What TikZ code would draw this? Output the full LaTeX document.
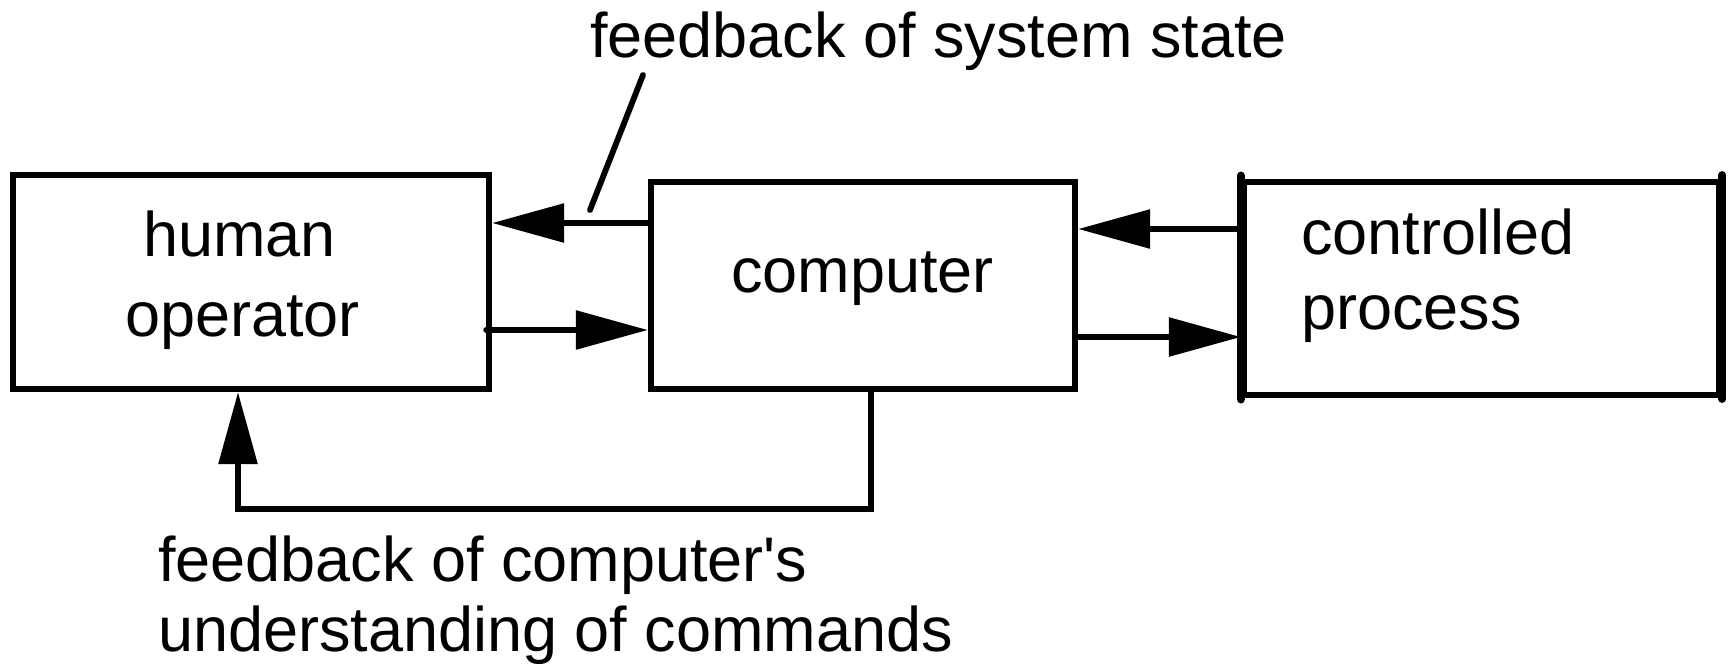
\documentclass[tikz,border=0pt]{standalone}
\usepackage{fontspec}
\setmainfont{Liberation Sans}
\usetikzlibrary{arrows.meta}
\begin{document}
\begin{tikzpicture}[x=1pt,y=-1pt,
  box/.style={draw,line width=6.3pt,rectangle,inner sep=0pt},
  txt/.style={anchor=base west,inner sep=0pt,font=\fontsize{63}{75}\selectfont},
  conn/.style={line width=5.8pt},
  arr/.style={conn,-{Triangle[length=72pt,width=38pt]}}]
\useasboundingbox (0,0) rectangle (1729,667);
\node[box,minimum width=476pt,minimum height=214pt] (hum) at (251,282) {};
\node[box,minimum width=424pt,minimum height=207pt] (com) at (863,285.5) {};
\node[box,minimum width=475pt,minimum height=213pt] (pro) at (1481.5,288.5) {};
\draw[line width=8.7pt,line cap=round] ([yshift=3pt]pro.north west) -- ([yshift=-1pt]pro.south west);
\draw[line width=7.5pt,line cap=round] ([yshift=4pt]pro.north east) -- ([yshift=-1pt]pro.south east);
\node[txt] (t1) at (143,256) {human};
\node[txt] (t2) at (125,336) {operator};
\node[txt] (t3) at (731,292) {computer};
\node[txt] (t4) at (1301,254) {controlled};
\node[txt] (t5) at (1301,329) {process};
\node[txt] (t6) at (590,57) {feedback of system state};
\node[txt] (t7) at (158,581) {feedback of computer\textquotesingle s};
\node[txt] (t8) at (158,651) {understanding of commands};
\coordinate (ya) at (0,223);
\coordinate (yb) at (0,330);
\coordinate (yc) at (0,229);
\coordinate (yd) at (0,337);
\draw[arr] (com.west |- ya) -- (hum.east |- ya);
\draw[arr,line cap=round] ([xshift=-6pt]hum.east |- yb) -- (com.west |- yb);
\draw[arr] (pro.west |- yc) -- (com.east |- yc);
\draw[arr] (com.east |- yd) -- (pro.west |- yd);
\coordinate (la) at (590,210);
\coordinate (lb) at (643,75);
\draw[conn,line cap=round] (la) -- (lb);
\coordinate (fa) at (871,509);
\coordinate (fb) at (238,509);
\draw[arr,line cap=round] (com.south -| fa) -- (fa) -- (fb) -- (hum.south -| fb);
\end{tikzpicture}
\end{document}
